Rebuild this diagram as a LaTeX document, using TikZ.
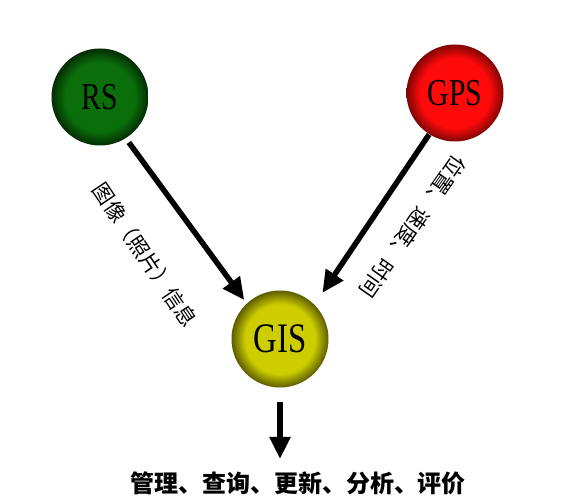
\documentclass[tikz,border=0pt]{standalone}
\usepackage{fontspec}
\usepackage{graphicx}
\usepackage{tikz}
\usetikzlibrary{arrows.meta}
\setmainfont{Liberation Serif}
\newfontfamily\cjk{Noto Sans CJK SC}

\definecolor{rsgreen}{RGB}{10,110,10}
\definecolor{gpsred}{RGB}{255,10,10}
\definecolor{gisyellow}{RGB}{205,205,0}

\pgfdeclareradialshading{rsball}{\pgfpoint{0bp}{0bp}}{color(0bp)=(rsgreen); color(18bp)=(rsgreen); color(25bp)=(rsgreen!40!black); color(50bp)=(rsgreen!40!black)}
\pgfdeclareradialshading{gpsball}{\pgfpoint{0bp}{0bp}}{color(0bp)=(gpsred); color(18bp)=(gpsred); color(25bp)=(gpsred!50!black); color(50bp)=(gpsred!50!black)}
\pgfdeclareradialshading{gisball}{\pgfpoint{0bp}{0bp}}{color(0bp)=(gisyellow); color(18bp)=(gisyellow); color(25bp)=(gisyellow!45!black); color(50bp)=(gisyellow!45!black)}

\newcommand{\balltext}[2]{\scalebox{0.78}[1]{\fontsize{#1}{#1}\selectfont #2}}

\begin{document}
\begin{tikzpicture}[x=1pt, y=1pt, thick,
			main node/.style={circle,minimum size=97pt,inner sep=0pt},
			big arrow/.style={line width=5.5pt,-{Triangle[length=22pt,width=20pt]}},
			side label/.style={font=\cjk\fontsize{21}{21}\selectfont,inner sep=0pt}]
			
			\useasboundingbox[fill=white] (0,0) rectangle (584,500);
			
			\node[main node,shading=rsball] (rs) at (100,403) {\balltext{38}{RS}};
			\node[main node,shading=gpsball] (gps) at (455,407) {\balltext{38}{GPS}};
			\node[main node,shading=gisball] (gis) at (280,161) {\balltext{42}{GIS}};
			\node[font=\cjk\bfseries\fontsize{24}{24}\selectfont,inner sep=0pt] (out) at (298,17) {管理、查询、更新、分析、评价};
			
			\node[side label,rotate=-56] (rslabel) at (145,245) {图像（照片）信息};
			\node[side label,rotate=235] (gpslabel) at (413,273) {位置、速度、时间};
			
			\draw[big arrow,shorten <=5pt,shorten >=4pt] (rs.-58) -- (gis.133);
			\draw[big arrow,shorten >=14pt] (gps.238) -- (gis.45);
			\draw[big arrow,shorten <=14pt,shorten >=12pt] (gis.south) -- (gis.south |- out.north);
			\end{tikzpicture}
\end{document}
